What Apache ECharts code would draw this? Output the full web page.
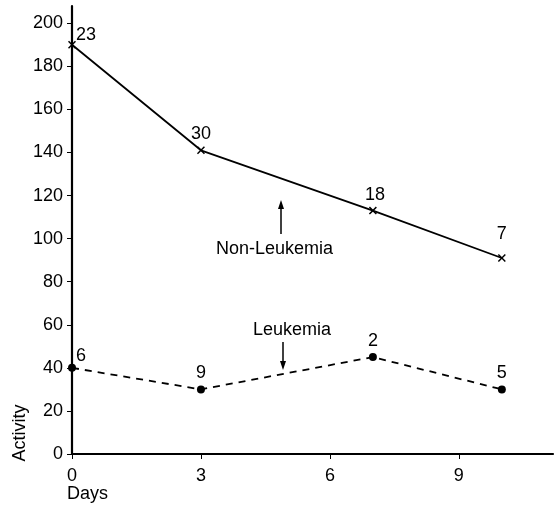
<!DOCTYPE html>
<html><head><meta charset="utf-8">
<script src="https://cdn.jsdelivr.net/npm/echarts@6/dist/echarts.min.js"></script>
<style>html,body{margin:0;padding:0;background:#fff}#c{width:560px;height:508px}</style>
</head><body><div id="c"></div>
<script>
var days = [0, 3, 7, 10];
var nonLeukemia = [190, 141, 113, 91];
var nonLeukemiaN = [23, 30, 18, 7];
var leukemia = [40, 30, 45, 30];
var leukemiaN = [6, 9, 2, 5];
var yTicks = [0, 20, 40, 60, 80, 100, 120, 140, 160, 180, 200];
var xTicks = [0, 3, 6, 9];

var FONT = 'Liberation Sans';
var FS = 18;
var nlOffsets = [[14, 6], [0, 0], [2, 0], [0, -8]];
var lOffsets = [[9, 4], [0, 0], [0, 0], [0, 0]];

function build(vals, counts, offs) {
  return days.map(function (d, i) {
    return { value: [d, vals[i]], label: { formatter: String(counts[i]), offset: offs[i] } };
  });
}

var cross = 'path://M0,1.3L1.3,0L5,3.7L8.7,0L10,1.3L6.3,5L10,8.7L8.7,10L5,6.3L1.3,10L0,8.7L3.7,5Z';

var chart = echarts.init(document.getElementById('c'));
chart.setOption({
  animation: false,
  backgroundColor: '#fff',
  grid: { left: 72, right: 7, top: 6, bottom: 54, outerBoundsMode: 'none', containLabel: false },
  xAxis: {
    type: 'value', min: 0, max: 11.19,
    axisLine: { lineStyle: { color: '#000', width: 2.2 } },
    axisTick: { customValues: xTicks, length: 5, lineStyle: { color: '#000' } },
    axisLabel: { customValues: xTicks, color: '#000', fontFamily: FONT, fontSize: FS, margin: 13 },
    splitLine: { show: false }
  },
  yAxis: {
    type: 'value', min: 0, max: 208,
    axisLine: { lineStyle: { color: '#000', width: 2.2 } },
    axisTick: { customValues: yTicks, length: 5, lineStyle: { color: '#000' } },
    axisLabel: { customValues: yTicks, color: '#000', fontFamily: FONT, fontSize: FS, margin: 9 },
    splitLine: { show: false }
  },
  series: [
    {
      name: 'Non-Leukemia', type: 'line',
      data: build(nonLeukemia, nonLeukemiaN, nlOffsets),
      symbol: cross, symbolSize: 8,
      lineStyle: { color: '#000', width: 1.8 },
      itemStyle: { color: '#000' },
      label: { show: true, position: 'top', distance: 3, color: '#000', fontFamily: FONT, fontSize: FS }
    },
    {
      name: 'Leukemia', type: 'line',
      data: build(leukemia, leukemiaN, lOffsets),
      symbol: 'circle', symbolSize: 8,
      lineStyle: { color: '#000', width: 1.8, type: [7, 6] },
      itemStyle: { color: '#000' },
      label: { show: true, position: 'top', distance: 3, color: '#000', fontFamily: FONT, fontSize: FS }
    }
  ],
  graphic: [
    { type: 'text', x: 20, y: 433, rotation: Math.PI / 2, style: { text: 'Activity', fill: '#000', font: FS + 'px "Liberation Sans"', align: 'center', verticalAlign: 'middle' } },
    { type: 'text', x: 67, y: 494, style: { text: 'Days', fill: '#000', font: FS + 'px "Liberation Sans"', align: 'left', verticalAlign: 'middle' } },
    { type: 'text', x: 216, y: 249, style: { text: 'Non-Leukemia', fill: '#000', font: FS + 'px "Liberation Sans"', align: 'left', verticalAlign: 'middle' } },
    { type: 'line', shape: { x1: 281, y1: 234, x2: 281, y2: 206 }, style: { stroke: '#000', lineWidth: 1.5 } },
    { type: 'polygon', shape: { points: [[281, 200], [278, 209], [284, 209]] }, style: { fill: '#000' } },
    { type: 'text', x: 253, y: 330, style: { text: 'Leukemia', fill: '#000', font: FS + 'px "Liberation Sans"', align: 'left', verticalAlign: 'middle' } },
    { type: 'line', shape: { x1: 283, y1: 342, x2: 283, y2: 364 }, style: { stroke: '#000', lineWidth: 1.5 } },
    { type: 'polygon', shape: { points: [[283, 370], [280, 361], [286, 361]] }, style: { fill: '#000' } }
  ]
});
</script>
</body></html>
